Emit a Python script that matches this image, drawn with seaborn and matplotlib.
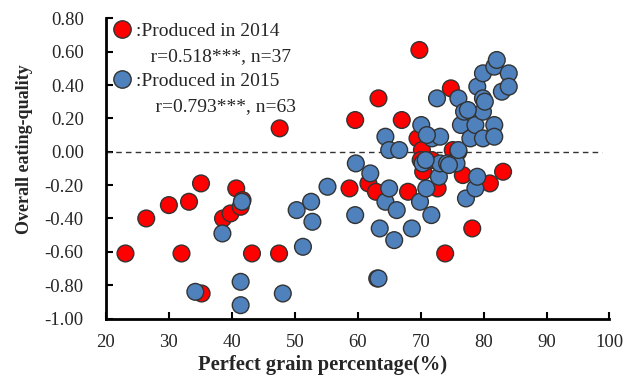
import numpy as np
import pandas as pd
import seaborn as sns
import matplotlib
matplotlib.use("Agg")
import matplotlib.pyplot as plt
from matplotlib.lines import Line2D

# 2014 samples
x2014 = [23.1, 26.4, 30.0, 32.0, 33.2, 35.1, 35.2, 38.6, 39.8, 40.7, 41.4, 41.7, 43.2,
         47.5, 47.6, 58.7, 59.6, 61.7, 62.9, 63.3, 67.0, 68.0, 69.5, 69.8, 70.2, 70.4,
         70.0, 71.8, 72.7, 73.9, 74.8, 75.1, 76.0, 76.7, 78.2, 81.0, 83.1]
y2014 = [-0.61, -0.40, -0.32, -0.61, -0.30, -0.19, -0.85, -0.40, -0.37, -0.22, -0.33, -0.29, -0.61,
         -0.61, 0.14, -0.22, 0.19, -0.19, -0.24, 0.32, 0.19, -0.24, 0.08, 0.61, 0.01, -0.12,
         -0.05, -0.05, -0.22, -0.61, 0.38, 0.01, 0.00, -0.14, -0.46, -0.19, -0.12]

# 2015 samples
x2015 = [34.2, 38.5, 41.6, 41.4, 41.4, 48.1, 50.3, 51.3, 52.6, 52.8, 55.2, 59.7, 59.6,
         62.0, 63.1, 63.3, 63.5, 64.4, 65.0, 66.6, 64.4, 65.0, 65.8, 66.2, 68.6, 69.9,
         70.1, 70.3, 70.9, 71.7, 71.8, 73.1, 72.6, 72.9, 73.1, 74.2, 75.7, 76.0, 76.0,
         76.4, 76.9, 77.2, 77.9, 78.7, 78.7, 79.0, 79.0, 79.9, 79.9, 79.9, 79.9, 81.7,
         82.1, 81.7, 81.7, 82.9, 84.0, 84.0, 77.5, 70.8, 80.2, 71.0, 74.5]
y2015 = [-0.84, -0.49, -0.30, -0.78, -0.92, -0.85, -0.35, -0.57, -0.30, -0.42, -0.21, -0.07, -0.38,
         -0.13, -0.76, -0.76, -0.46, 0.09, 0.01, 0.01, -0.30, -0.22, -0.53, -0.35, -0.46, -0.30,
         0.16, -0.07, -0.22, -0.38, 0.08, 0.09, 0.32, -0.15, -0.07, -0.07, -0.07, 0.01, 0.32,
         0.16, 0.24, -0.28, 0.08, 0.16, -0.22, -0.15, 0.39, 0.47, 0.32, 0.24, 0.08, 0.51,
         0.55, 0.16, 0.09, 0.36, 0.47, 0.39, 0.25, -0.05, 0.30, 0.10, -0.08]

years = ["2014", "2015"]
colors = {"2014": "#FF0000", "2015": "#4F81BD"}
legend_lines = [":Produced in 2014", "   r=0.518***, n=37",
                ":Produced in 2015", "    r=0.793***, n=63"]
xticks = [20, 30, 40, 50, 60, 70, 80, 90, 100]
yticks = [-1.0, -0.8, -0.6, -0.4, -0.2, 0.0, 0.2, 0.4, 0.6, 0.8]

df = pd.DataFrame({
    "x": x2014 + x2015,
    "y": y2014 + y2015,
    "year": ["2014"] * len(x2014) + ["2015"] * len(x2015),
})

sns.set_style("white")
plt.rcParams["font.family"] = ["Liberation Serif", "DejaVu Serif"]

fig = plt.figure(figsize=(6.27, 3.81), dpi=100)
ax = fig.add_axes([0.169, 0.164, 0.803, 0.788])

sns.scatterplot(data=df, x="x", y="y", hue="year", palette=colors, hue_order=years,
                s=145, edgecolor="#333333", linewidth=1.0, legend=False, ax=ax, zorder=3)

ax.axhline(0, xmin=0, xmax=0.985, color="#333333", linestyle=(0, (4, 3)), linewidth=1.0, zorder=1)

ax.set_xlim(20, 100)
ax.set_ylim(-1.0, 0.8)
ax.set_xticks(xticks)
ax.set_yticks(yticks)
ax.set_yticklabels([f"{v:.2f}" for v in yticks])
ax.tick_params(axis="both", direction="in", length=5, width=1.5, labelsize=13.5, color="black",
               left=True, bottom=True)
ax.tick_params(axis="y", pad=16)
ax.tick_params(axis="x", pad=11)
for side in ["top", "right"]:
    ax.spines[side].set_visible(False)
for side in ["left", "bottom"]:
    ax.spines[side].set_color("black")
    ax.spines[side].set_linewidth(2)

ax.set_xlabel("Perfect grain percentage(%)", fontsize=14.8, fontweight="bold")
ax.set_ylabel("Overall eating-quality", fontsize=13, fontweight="bold")
ax.xaxis.set_label_coords(0.43, -0.122)
ax.yaxis.set_label_coords(-0.145, 0.563)

handles = [
    Line2D([], [], marker="o", linestyle="", markersize=12.5, markerfacecolor=colors["2014"],
           markeredgecolor="#333333", markeredgewidth=1),
    Line2D([], [], linestyle="", marker=""),
    Line2D([], [], marker="o", linestyle="", markersize=12.5, markerfacecolor=colors["2015"],
           markeredgecolor="#333333", markeredgewidth=1),
    Line2D([], [], linestyle="", marker=""),
]
ax.legend(handles, legend_lines, loc="upper left", bbox_to_anchor=(-0.003, 1.012),
          frameon=False, fontsize=14, handlelength=1.0, handletextpad=0.2,
          labelspacing=0.38, borderaxespad=0.0)

fig.savefig("out.png", dpi=100)
